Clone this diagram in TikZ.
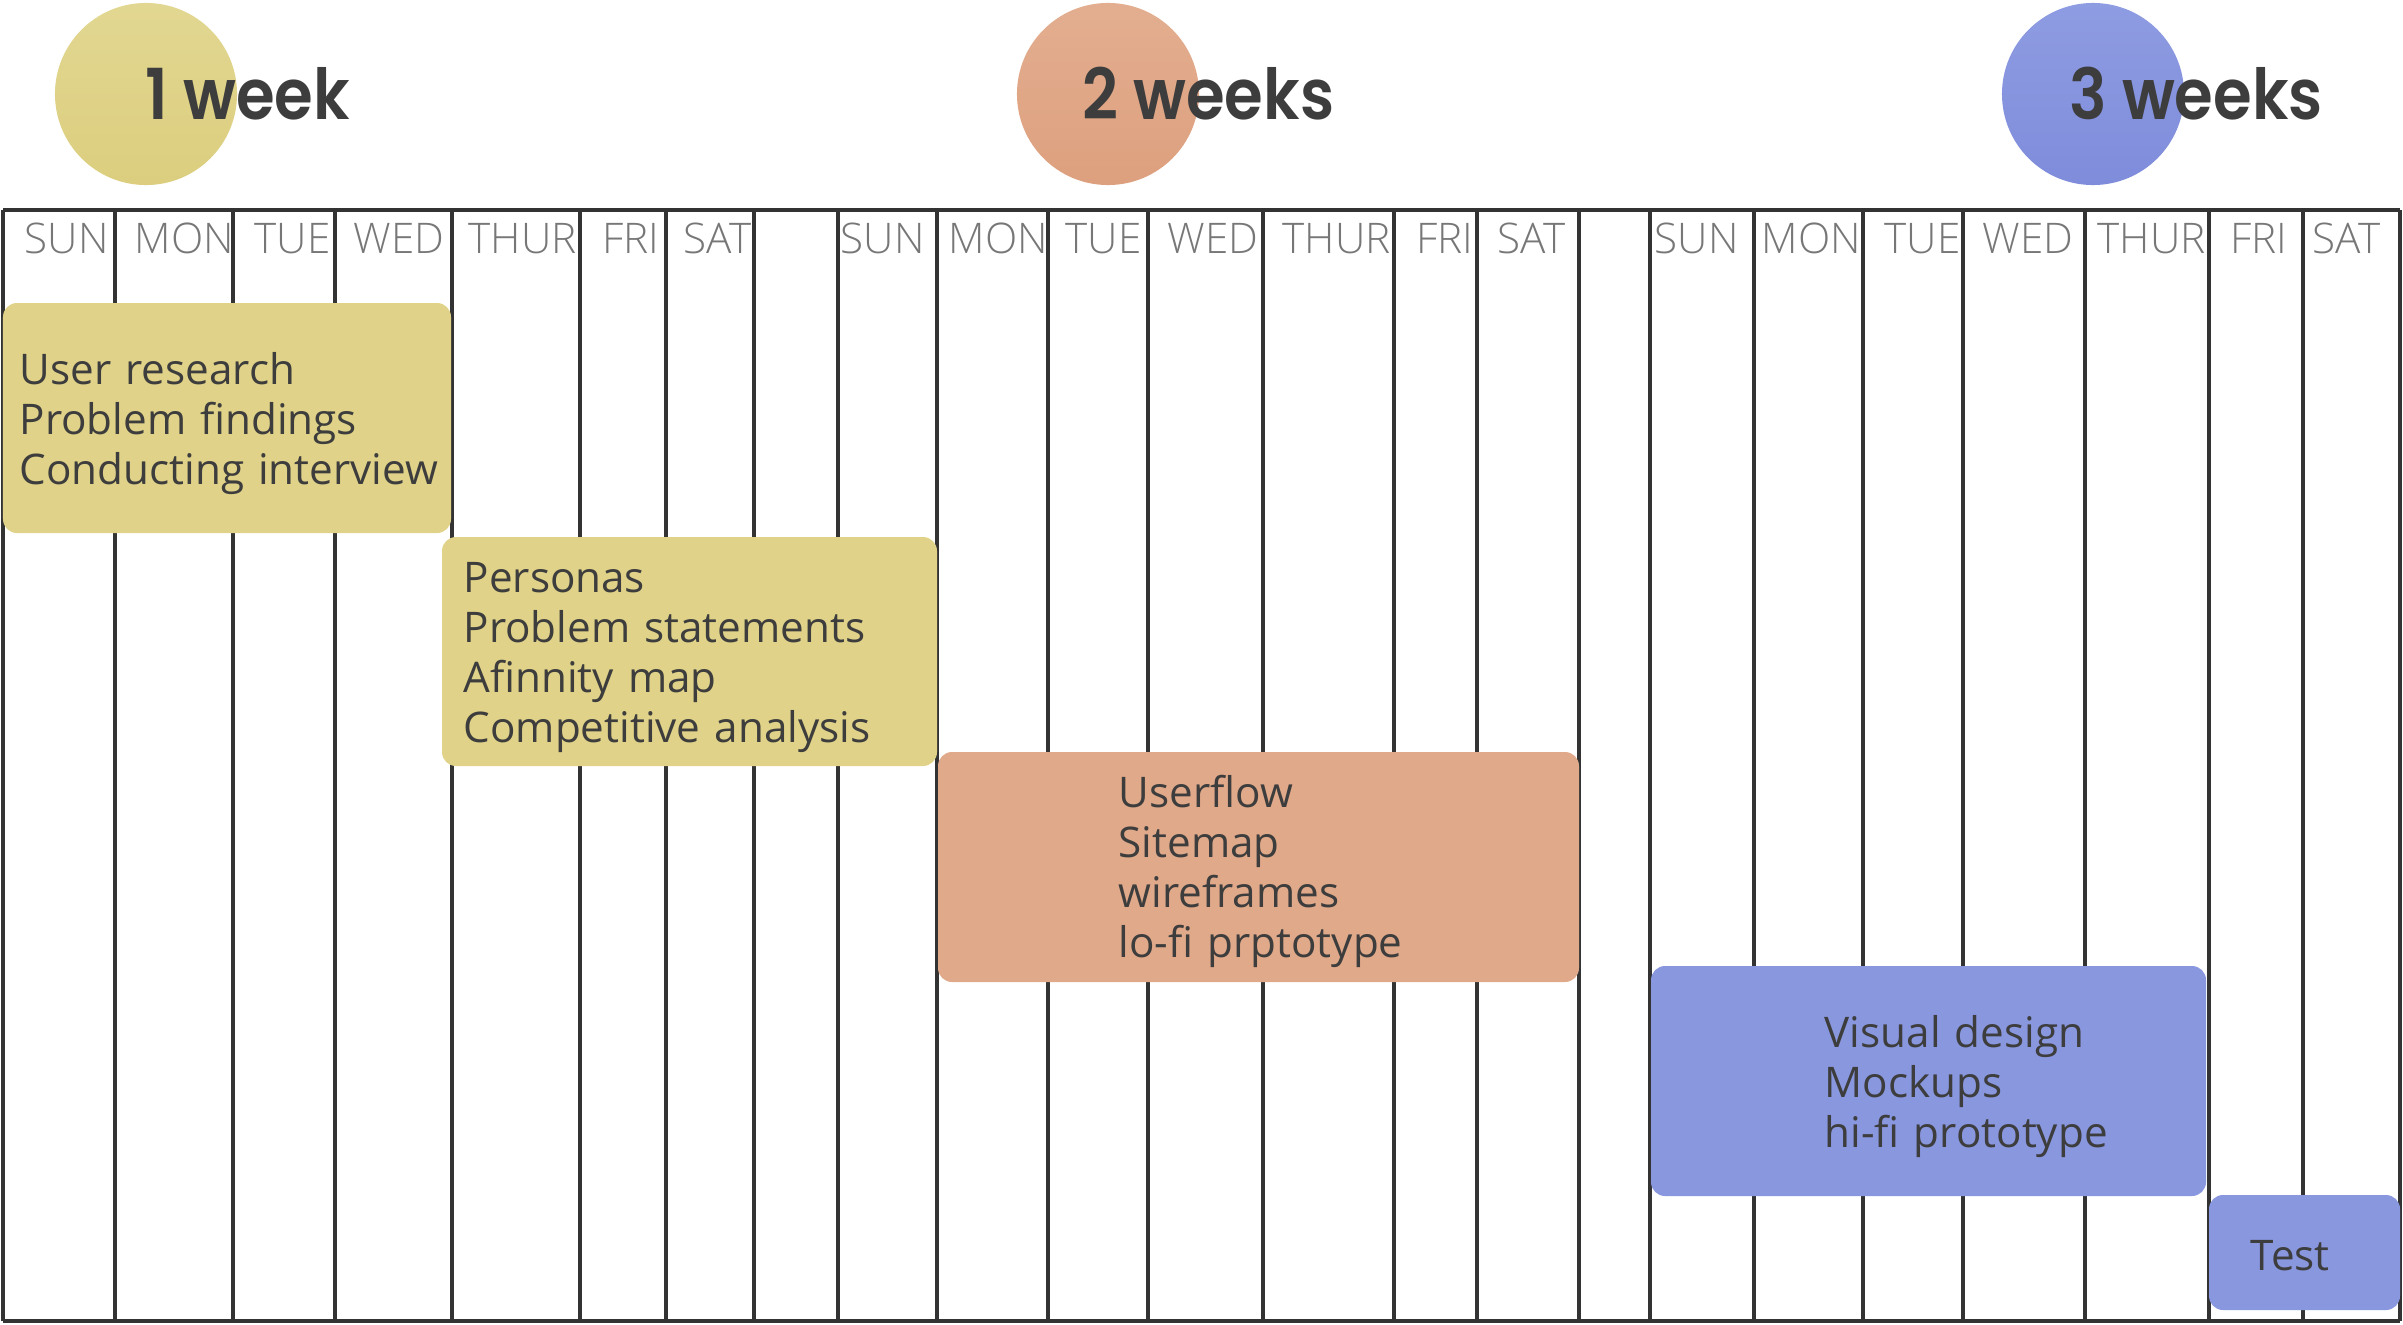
\documentclass[tikz,border=0pt]{standalone}
\usepackage{graphicx}
\usepackage{fontspec}
\setmainfont{Open Sans}
\usetikzlibrary{fit}
\IfFontExistsTF{Open Sans Light}{\newfontfamily\dayfont{Open Sans Light}}{\newfontfamily\dayfont{Open Sans}}
\IfFontExistsTF{Poppins SemiBold}{\newfontfamily\headfont{Poppins SemiBold}}{\newfontfamily\headfont{Poppins}[FakeBold=1.5]}
\newcommand{\headtext}[1]{\scalebox{0.89}[1]{#1}}
\definecolor{ink}{HTML}{3D3D3D}
\definecolor{dayc}{HTML}{777777}
\definecolor{gridc}{HTML}{333333}
\definecolor{yelbox}{HTML}{E0D288}
\definecolor{orabox}{HTML}{E0A98A}
\definecolor{blubox}{HTML}{8997DF}
\definecolor{yeltop}{HTML}{E2D792}
\definecolor{yelbot}{HTML}{DCCE7E}
\definecolor{oratop}{HTML}{E3AE90}
\definecolor{orabot}{HTML}{DDA07E}
\definecolor{blutop}{HTML}{8E9CE2}
\definecolor{blubot}{HTML}{7F8CDB}
\begin{document}
\begin{tikzpicture}[x=0.01cm,y=-0.01cm,
  gridline/.style={line width=0.95pt, draw=gridc},
  day/.style={anchor=base west, inner sep=0, font=\dayfont\fontsize{12}{14}\selectfont, text=dayc},
  task/.style={anchor=base west, inner sep=0, align=left, text width=6cm, font=\fontsize{12}{14.23}\selectfont, text=ink},
  taskbox/.style={inner sep=0, rounded corners=0.14cm, draw=none},
  head/.style={anchor=base west, inner sep=0, font=\headfont\fontsize{20}{24}\selectfont, text=ink},
  bubble/.style={circle, inner sep=0, minimum size=1.82cm, draw=none}]
\useasboundingbox (0,0) rectangle (2403,1324);

% week bubbles and titles
\node[bubble, top color=yeltop, bottom color=yelbot] (c1) at (146,94) {};
\node[bubble, top color=oratop, bottom color=orabot] (c2) at (1108,94) {};
\node[bubble, top color=blutop, bottom color=blubot] (c3) at (2093,94) {};
\node[head] (h1) at (145,119) {\headtext{1 week}};
\node[head] (h2) at (1082,119) {\headtext{2 weeks}};
\node[head] (h3) at (2069,119) {\headtext{3 weeks}};

% grid
\draw[gridline] (3,210) -- (2400,210);
\draw[gridline] (3,1321) -- (2400,1321);
\foreach \x in {3,115,233,335,452,580,666,754,838,937,1048,1148,1263,1394,1477,1579,1650,1754,1863,1963,2085,2209,2303,2400}
  \draw[gridline] (\x,210) -- (\x,1321);

% day labels
\foreach \x/\d [count=\i] in {24/SUN,134/MON,254/TUE,353/WED,468/THUR,602/FRI,683/SAT,
  840/SUN,948/MON,1065/TUE,1167/WED,1282/THUR,1416/FRI,1497/SAT,
  1654/SUN,1761/MON,1884/TUE,1982/WED,2097/THUR,2230/FRI,2312/SAT}
  \node[day] (d\i) at (\x,253) {\d};

% task boxes
\node[taskbox, fill=yelbox, fit={(3,303) (451,533)}] (b1) {};
\node[taskbox, fill=yelbox, fit={(442,537) (937,766)}] (b2) {};
\node[taskbox, fill=orabox, fit={(938,752) (1579,982)}] (b3) {};
\node[taskbox, fill=blubox, fit={(1651,966) (2206,1196)}] (b4) {};
\node[taskbox, fill=blubox, fit={(2209,1195) (2400,1310)}] (b5) {};

% task texts
\node[task] (t1) at (19,384) {User research\\Problem findings\\Conducting interview};
\node[task] (t2) at (463,592) {Personas\\Problem statements\\Afinnity map\\Competitive analysis};
\node[task] (t3) at (1118,807) {Userflow\\Sitemap\\wireframes\\lo-fi prptotype};
\node[task] (t4) at (1824,1047) {Visual design\\Mockups\\hi-fi prototype};
\node[task] (t5) at (2250,1270) {Test};
\end{tikzpicture}
\end{document}
